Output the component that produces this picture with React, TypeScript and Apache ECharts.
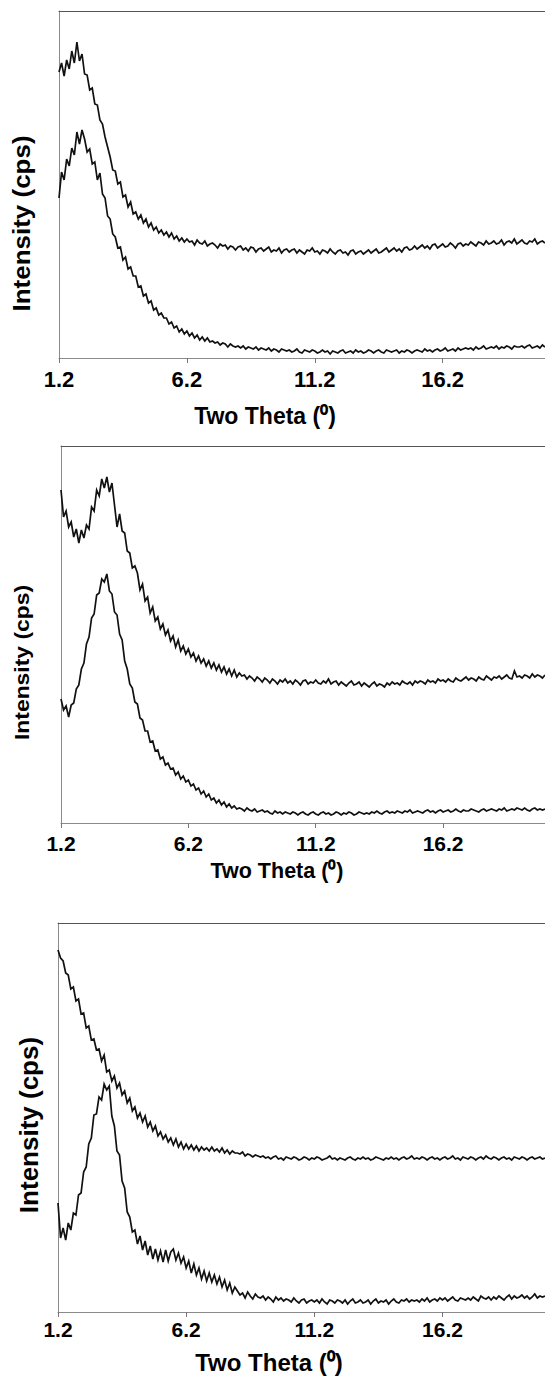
import React, { useEffect, useRef } from "react";
import * as echarts from "echarts";

// Scan grid: two-theta from 1.2 deg, 0.1 deg steps (191 points, to 20.2 deg)
const TWO_THETA_START = 1.2;
const TWO_THETA_STEP = 0.1;
const X_TICK_LABELS = ["1.2", "6.2", "11.2", "16.2"];
const X_TITLE = "Two Theta (\u2070)";
const Y_TITLE = "Intensity (cps)";

// Panel 1 (relative intensity, arbitrary units)
const P1_UPPER = [
  286, 295, 282, 298, 289, 307, 295, 316, 297, 304,
  284, 283, 268, 270, 254, 253, 238, 234, 221, 211,
  201, 188, 187, 174, 176, 161, 163, 151, 156, 144,
  146, 139, 143, 135, 139, 131, 135, 128, 131, 125,
  128, 123, 126, 121, 125, 119, 122, 117, 120, 116,
  119, 116, 117, 113, 118, 115, 114, 117, 112, 114,
  115, 113, 110, 114, 112, 113, 109, 112, 111, 108,
  111, 112, 108, 110, 107, 111, 110, 106, 109, 110,
  107, 109, 111, 106, 108, 107, 110, 105, 108, 109,
  106, 108, 109, 105, 108, 106, 104, 108, 107, 110,
  106, 107, 104, 108, 107, 105, 109, 106, 104, 107,
  108, 105, 106, 103, 107, 108, 104, 106, 107, 104,
  106, 108, 105, 107, 109, 105, 106, 108, 110, 106,
  108, 110, 107, 109, 106, 110, 111, 108, 109, 112,
  109, 111, 113, 110, 112, 109, 113, 114, 110, 112,
  114, 111, 112, 115, 113, 110, 114, 115, 112, 114,
  113, 116, 114, 112, 116, 115, 113, 117, 114, 115,
  117, 114, 115, 118, 113, 116, 117, 115, 119, 114,
  116, 118, 115, 114, 117, 116, 119, 114, 116, 117, 115,
];
const P1_LOWER = [
  160, 186, 178, 199, 192, 210, 203, 226, 214, 228,
  219, 206, 209, 194, 196, 178, 185, 164, 160, 142,
  139, 124, 121, 110, 111, 98, 101, 89, 91, 82,
  82, 71, 72, 62, 64, 55, 57, 48, 50, 43,
  45, 40, 40, 34, 36, 30, 32, 26, 29, 24,
  27, 22, 25, 20, 23, 18, 21, 17, 20, 16,
  17, 15, 16, 13, 15, 14, 11, 14, 12, 11,
  12, 10, 12, 9, 11, 10, 9, 11, 8, 10,
  9, 8, 10, 7, 9, 8, 6, 9, 8, 7,
  8, 6, 7, 9, 6, 5, 8, 7, 6, 8,
  7, 5, 6, 8, 6, 7, 4, 7, 6, 5,
  7, 8, 5, 6, 7, 5, 8, 6, 7, 5,
  6, 8, 7, 5, 7, 8, 6, 5, 8, 7,
  6, 7, 8, 5, 7, 6, 8, 7, 5, 7,
  8, 7, 6, 9, 7, 8, 6, 8, 9, 7,
  8, 10, 7, 8, 9, 7, 10, 8, 9, 10,
  9, 10, 8, 11, 9, 10, 12, 9, 10, 11,
  10, 12, 9, 11, 10, 12, 11, 9, 12, 11,
  11, 12, 10, 12, 13, 10, 11, 12, 10, 13, 11,
];

// Panel 2
const P2_UPPER = [
  333, 306, 312, 296, 301, 286, 294, 280, 293, 285,
  298, 294, 316, 312, 333, 327, 344, 335, 346, 331,
  340, 318, 296, 309, 292, 290, 272, 270, 255, 257,
  250, 233, 239, 222, 226, 210, 216, 202, 206, 194,
  199, 188, 193, 182, 187, 176, 183, 172, 177, 169,
  174, 166, 170, 162, 167, 160, 164, 157, 162, 155,
  160, 153, 158, 151, 156, 149, 154, 147, 153, 146,
  150, 147, 148, 144, 147, 145, 142, 146, 144, 141,
  145, 143, 140, 144, 142, 139, 143, 141, 144, 140,
  142, 139, 143, 141, 138, 142, 143, 139, 141, 140,
  143, 140, 139, 142, 140, 144, 139, 141, 142, 138,
  141, 139, 137, 140, 142, 138, 139, 141, 137, 140,
  138, 136, 139, 141, 137, 139, 138, 136, 140, 138,
  141, 139, 140, 138, 142, 140, 139, 141, 138, 142,
  140, 142, 141, 139, 143, 141, 142, 140, 144, 142,
  143, 141, 144, 142, 141, 145, 143, 142, 144, 146,
  143, 145, 144, 142, 146, 144, 143, 147, 145, 143,
  146, 145, 147, 144, 146, 148, 145, 144, 152, 146,
  147, 145, 148, 147, 145, 149, 146, 148, 147, 145, 148,
];
const P2_LOWER = [
  124, 113, 117, 106, 118, 120, 134, 138, 154, 160,
  179, 186, 205, 209, 228, 230, 244, 241, 249, 232,
  229, 211, 208, 189, 183, 162, 154, 139, 135, 121,
  119, 105, 103, 92, 92, 81, 82, 72, 73, 64,
  66, 58, 60, 54, 55, 48, 51, 44, 47, 41,
  43, 37, 39, 33, 35, 29, 32, 26, 29, 23,
  25, 20, 23, 18, 21, 16, 19, 15, 17, 14,
  15, 14, 12, 15, 13, 12, 14, 11, 12, 13,
  11, 12, 10, 9, 12, 10, 11, 9, 11, 10,
  9, 11, 10, 8, 10, 11, 9, 8, 10, 11,
  9, 8, 10, 11, 9, 10, 8, 9, 11, 10,
  8, 10, 9, 11, 10, 8, 9, 11, 10, 9,
  10, 9, 11, 10, 12, 10, 9, 11, 12, 10,
  11, 10, 12, 11, 10, 12, 11, 13, 10, 11,
  12, 11, 10, 12, 13, 11, 12, 10, 12, 13,
  11, 12, 13, 11, 12, 14, 12, 11, 13, 12,
  12, 14, 13, 12, 11, 13, 14, 12, 13, 14,
  13, 12, 14, 13, 15, 12, 13, 14, 13, 15,
  14, 13, 15, 13, 12, 14, 15, 13, 14, 13, 14,
];

// Panel 3
const P3_UPPER = [
  362, 354, 351, 339, 337, 323, 325, 311, 313, 298,
  299, 284, 286, 272, 273, 262, 263, 251, 257, 240,
  242, 231, 236, 224, 229, 217, 221, 209, 214, 201,
  205, 194, 199, 190, 196, 185, 190, 181, 186, 176,
  180, 173, 177, 170, 174, 167, 173, 165, 170, 163,
  168, 163, 167, 162, 166, 161, 165, 162, 164, 161,
  165, 161, 163, 160, 164, 159, 162, 158, 161, 159,
  159, 158, 160, 156, 158, 157, 155, 157, 156, 155,
  156, 154, 155, 153, 155, 156, 153, 154, 152, 155,
  154, 153, 155, 154, 152, 153, 155, 154, 152, 154,
  153, 155, 154, 152, 153, 154, 156, 153, 154, 152,
  154, 153, 152, 154, 155, 153, 152, 154, 153, 155,
  153, 154, 152, 153, 155, 154, 153, 152, 154, 153,
  155, 153, 154, 152, 154, 155, 153, 154, 156, 153,
  154, 153, 155, 154, 152, 154, 155, 153, 154, 152,
  154, 155, 153, 154, 156, 153, 154, 152, 155, 154,
  153, 155, 154, 152, 154, 155, 153, 156, 154, 153,
  155, 154, 152, 154, 155, 153, 154, 152, 155, 154,
  153, 155, 154, 152, 154, 155, 153, 154, 155, 153, 154,
];
const P3_LOWER = [
  109, 74, 84, 72, 89, 82, 99, 97, 117, 119,
  140, 145, 168, 174, 197, 198, 215, 212, 228, 222,
  226, 196, 186, 161, 157, 131, 124, 100, 95, 80,
  82, 68, 76, 62, 71, 57, 66, 53, 63, 52,
  61, 50, 62, 51, 60, 63, 52, 59, 49, 55,
  44, 51, 39, 48, 37, 44, 33, 41, 31, 39,
  30, 37, 28, 35, 25, 32, 22, 29, 19, 25,
  21, 17, 19, 14, 20, 16, 13, 18, 15, 14,
  16, 12, 15, 13, 10, 15, 12, 14, 11, 13,
  12, 10, 14, 11, 9, 12, 13, 9, 11, 12,
  10, 12, 9, 13, 10, 8, 12, 11, 9, 12,
  11, 9, 12, 8, 11, 13, 9, 10, 12, 9,
  10, 12, 8, 11, 13, 9, 11, 10, 12, 8,
  11, 13, 10, 9, 12, 11, 13, 10, 12, 11,
  12, 10, 13, 11, 14, 10, 12, 13, 11, 14,
  12, 14, 11, 13, 15, 12, 11, 14, 13, 12,
  14, 12, 15, 13, 11, 16, 14, 13, 15, 12,
  15, 13, 16, 14, 12, 15, 17, 13, 16, 14,
  15, 17, 14, 16, 13, 15, 18, 14, 16, 15, 16,
];

const FONT = "'Liberation Sans', Arial, Helvetica, sans-serif";

const PANELS = [
  {
    grid: { left: 59, top: 11, right: 0, height: 347 },
    yMax: 347,
    upper: P1_UPPER,
    lower: P1_LOWER,
    tickFont: 22,
    tickMargin: 10,
    xTitle: { x: 265, y: 416, size: 23 },
    yTitle: { x: 22, y: 223.5, size: 23, stretch: 1.13 },
  },
  {
    grid: { left: 61, top: 446, right: 0, height: 377 },
    yMax: 377,
    upper: P2_UPPER,
    lower: P2_LOWER,
    tickFont: 21,
    tickMargin: 10,
    xTitle: { x: 277, y: 871, size: 21.5 },
    yTitle: { x: 21.5, y: 662.5, size: 21, stretch: 1.09 },
  },
  {
    grid: { left: 58, top: 923, right: 0, height: 389 },
    yMax: 389,
    upper: P3_UPPER,
    lower: P3_LOWER,
    tickFont: 21,
    tickMargin: 7,
    xTitle: { x: 269, y: 1362, size: 24 },
    yTitle: { x: 29, y: 1125, size: 26, stretch: 1.0 },
  },
];

const X_SPAN = 19; // two-theta span shown: 1.2 .. 20.2

function toSeriesData(values: number[]) {
  return values.map((v, i) => [i * TWO_THETA_STEP, v]);
}

export default function App() {
  const ref = useRef<HTMLDivElement>(null);

  useEffect(() => {
    if (!ref.current) return;
    const chart = echarts.init(ref.current, undefined, { renderer: "svg" });

    const grids: any[] = [];
    const xAxes: any[] = [];
    const yAxes: any[] = [];
    const series: any[] = [];
    const graphics: any[] = [];

    PANELS.forEach((p, idx) => {
      grids.push({ ...p.grid, containLabel: false });
      xAxes.push({
        type: "value",
        gridIndex: idx,
        min: 0,
        max: X_SPAN,
        interval: 5,
        position: "bottom",
        axisLine: { show: true, onZero: false, lineStyle: { color: "#8a8a8a", width: 1 } },
        axisTick: { show: true, length: 5, lineStyle: { color: "#777", width: 1 } },
        splitLine: { show: false },
        axisLabel: {
          show: true,
          showMaxLabel: false,
          margin: p.tickMargin,
          color: "#000",
          fontSize: p.tickFont,
          fontWeight: "bold",
          fontFamily: FONT,
          formatter: (v: number) => {
            const k = Math.round(v / 5);
            return Math.abs(v - k * 5) < 1e-6 && X_TICK_LABELS[k] ? X_TICK_LABELS[k] : "";
          },
        },
      });
      xAxes.push({
        type: "value",
        gridIndex: idx,
        min: 0,
        max: X_SPAN,
        position: "top",
        axisLine: { show: true, onZero: false, lineStyle: { color: "#555", width: 1 } },
        axisTick: { show: false },
        axisLabel: { show: false },
        splitLine: { show: false },
      });
      yAxes.push({
        type: "value",
        gridIndex: idx,
        min: 0,
        max: p.yMax,
        axisLine: { show: true, onZero: false, lineStyle: { color: "#8a8a8a", width: 1 } },
        axisTick: { show: false },
        axisLabel: { show: false },
        splitLine: { show: false },
      });
      [p.upper, p.lower].forEach((vals) => {
        series.push({
          type: "line",
          xAxisIndex: idx * 2,
          yAxisIndex: idx,
          data: toSeriesData(vals),
          showSymbol: false,
          symbol: "none",
          lineStyle: { color: "#111", width: 1.7, join: "miter" },
          silent: true,
        });
      });
      graphics.push({
        type: "text",
        x: p.xTitle.x,
        y: p.xTitle.y,
        style: {
          text: X_TITLE,
          fill: "#000",
          font: `bold ${p.xTitle.size}px ${FONT}`,
          textAlign: "center",
          textVerticalAlign: "middle",
        },
      });
      graphics.push({
        type: "text",
        x: p.yTitle.x,
        y: p.yTitle.y,
        rotation: Math.PI / 2,
        scaleX: p.yTitle.stretch,
        style: {
          text: Y_TITLE,
          fill: "#000",
          font: `bold ${p.yTitle.size}px ${FONT}`,
          textAlign: "center",
          textVerticalAlign: "middle",
        },
      });
    });

    chart.setOption({
      animation: false,
      backgroundColor: "#fff",
      grid: grids,
      xAxis: xAxes,
      yAxis: yAxes,
      series,
      graphic: graphics,
    });

    return () => chart.dispose();
  }, []);

  return (
    <div
      ref={ref}
      style={{ position: "absolute", left: 0, top: 0, width: 545, height: 1379, background: "#fff" }}
    />
  );
}
